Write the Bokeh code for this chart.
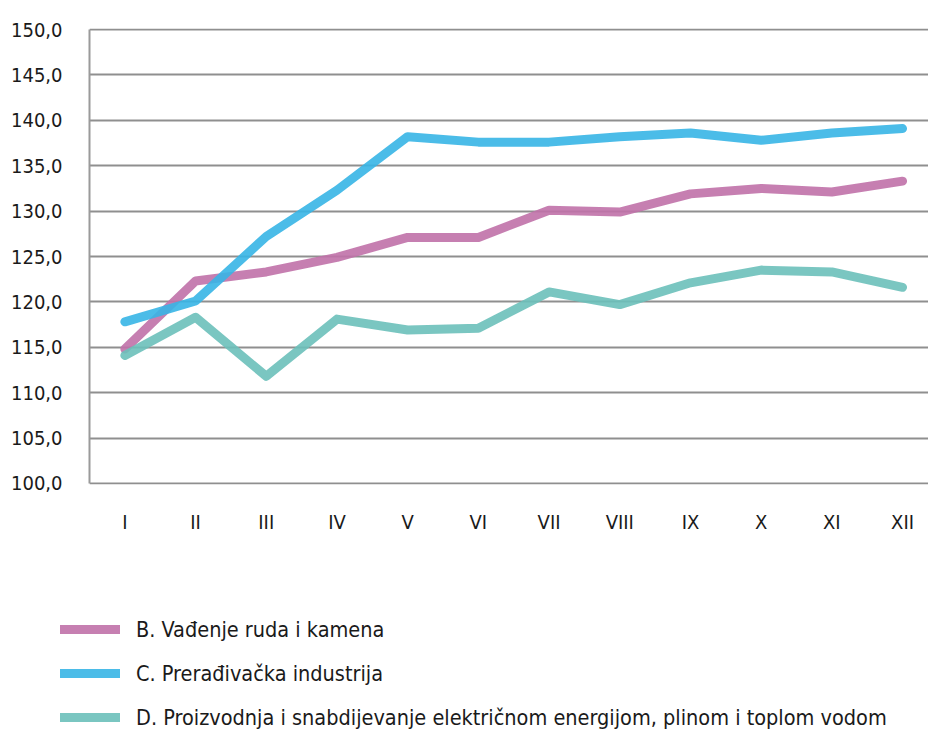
from bokeh.plotting import figure
from bokeh.layouts import column
from bokeh.models import Range1d, FixedTicker, Legend, LegendItem
from bokeh.embed import file_html
from bokeh.resources import INLINE

months = ["I", "II", "III", "IV", "V", "VI", "VII", "VIII", "IX", "X", "XI", "XII"]
series_b = [114.8, 122.3, 123.3, 124.9, 127.1, 127.1, 130.1, 129.9, 131.9, 132.5, 132.1, 133.3]
series_c = [117.8, 120.1, 127.2, 132.3, 138.2, 137.6, 137.6, 138.2, 138.6, 137.8, 138.6, 139.1]
series_d = [114.1, 118.3, 111.8, 118.1, 116.9, 117.1, 121.1, 119.7, 122.1, 123.5, 123.3, 121.6]
names = ["B. Vađenje ruda i kamena",
         "C. Prerađivačka industrija",
         "D. Proizvodnja i snabdijevanje električnom energijom, plinom i toplom vodom"]
y_ticks = [100, 105, 110, 115, 120, 125, 130, 135, 140, 145, 150]
y_labels = ["100,0", "105,0", "110,0", "115,0", "120,0", "125,0", "130,0", "135,0", "140,0", "145,0", "150,0"]

FONT = "DejaVu Sans Condensed"
colors = ["#C071A9", "#37B5E5", "#6BC0BA"]

x = list(range(1, len(months) + 1))
all_series = [series_b, series_c, series_d]

p = figure(width=928, height=560, output_backend="svg", toolbar_location=None,
           x_range=Range1d(0.5, 12.367), y_range=Range1d(99.88, 150.12),
           min_border_left=89, min_border_right=0, min_border_top=28, min_border_bottom=76)
p.outline_line_color = None
p.background_fill_color = "white"
p.border_fill_color = "white"

p.xgrid.visible = False
p.ygrid.ticker = FixedTicker(ticks=y_ticks)
p.ygrid.grid_line_color = "#8f8f8f"
p.ygrid.grid_line_width = 2

p.yaxis.ticker = FixedTicker(ticks=y_ticks)
p.yaxis.major_label_overrides = {t: l for t, l in zip(y_ticks, y_labels)}
p.yaxis.bounds = (100, 150)
p.xaxis.ticker = FixedTicker(ticks=x)
p.xaxis.major_label_overrides = {i: m for i, m in zip(x, months)}

for ax in (p.xaxis[0], p.yaxis[0]):
    ax.major_tick_line_color = None
    ax.minor_tick_line_color = None
    ax.major_label_text_font = FONT
    ax.major_label_text_font_size = "20px"
    ax.major_label_text_color = "#1a1a1a"
    ax.axis_line_color = "#9a9a9a"
    ax.axis_line_width = 2
p.xaxis.axis_line_color = None
p.yaxis.major_label_standoff = 21
p.xaxis.major_label_standoff = 19

line_style = dict(line_width=9, line_alpha=0.9, line_cap="round", line_join="round")
for ys, c in zip(all_series, colors):
    p.line(x, ys, line_color=c, **line_style)

# legend panel below the chart (its series lie outside this panel's visible range)
p2 = figure(width=928, height=176, output_backend="svg", toolbar_location=None,
            x_range=Range1d(0, 1), y_range=Range1d(0, 1),
            x_axis_location=None, y_axis_location=None,
            min_border=0, min_border_left=0, min_border_right=0,
            min_border_top=0, min_border_bottom=0)
p2.outline_line_color = None
p2.grid.visible = False
p2.background_fill_color = "white"
p2.border_fill_color = "white"

aligned = "frame_align" in p2.properties()
if aligned:
    p.frame_align = False
    p2.frame_align = False
legend_x = 60 if aligned else -29

legend_renderers = [p2.line(x, ys, line_color=c, **line_style) for ys, c in zip(all_series, colors)]
legend = Legend(items=[LegendItem(label=n, renderers=[r]) for n, r in zip(names, legend_renderers)],
                location=(legend_x, 5), orientation="vertical",
                glyph_width=60, glyph_height=28, label_height=28, spacing=16,
                label_standoff=16, padding=0, margin=0,
                label_text_font=FONT, label_text_font_size="21.5px", label_text_color="#1a1a1a",
                background_fill_alpha=0, border_line_color=None)
p2.add_layout(legend, "center")

layout = column(p, p2, spacing=0)
open("out.html", "w").write(file_html(layout, INLINE))
